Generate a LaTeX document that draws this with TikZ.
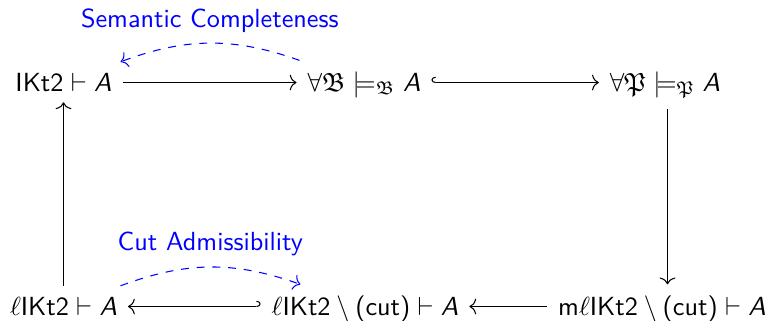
\documentclass[tikz,border=0pt]{standalone}
\usepackage{amssymb}
\usepackage{fontspec}
\usetikzlibrary{arrows.meta,calc}
\newcommand{\sA}{\mbox{\sffamily\slshape A}}
\newcommand{\fB}{\mathfrak{B}}
\newcommand{\fP}{\mathfrak{P}}
\newcommand{\cutt}{\mbox{(cut)}}
\begin{document}
\begin{tikzpicture}[x=0.3817pt,y=-0.3817pt,font=\sffamily,
  obj/.style={inner sep=4pt,anchor=base},
  arr/.style={-{To[length=2.6pt,width=6pt]},line width=0.4pt},
  hookup/.style={{Hooks[right,length=1.6pt,width=4.4pt]}-{To[length=2.6pt,width=6pt]},line width=0.4pt},
  hookdn/.style={{Hooks[left,length=1.6pt,width=4.4pt]}-{To[length=2.6pt,width=6pt]},line width=0.4pt},
  proof/.style={blue,dashed,line width=0.4pt,-{To[length=2.6pt,width=6pt]}},
  lbl/.style={text=blue,font=\sffamily,above,inner sep=4pt}]
\useasboundingbox (0,0) rectangle (775,320);
\node[obj] (n1) at (63.5,91) {$\mathsf{IKt2}\vdash\sA$};
\node[obj] (n2) at (364,91) {$\forall\fB\models_{\fB}\sA$};
\node[obj] (n3) at (665,91) {$\forall\fP\models_{\fP}\sA$};
\node[obj] (n4) at (63.5,315) {$\ell\mathsf{IKt2}\vdash\sA$};
\node[obj] (n5) at (365,315) {$\ell\mathsf{IKt2}\setminus\cutt\vdash\sA$};
\node[obj] (n6) at (662,315) {$\mathsf{m}\ell\mathsf{IKt2}\setminus\cutt\vdash\sA$};
\draw[arr] ([yshift=3.24pt]n1.base east) -- ([yshift=3.24pt]n2.base west);
\draw[hookup] ([yshift=3.24pt]n2.base east) -- ([yshift=3.24pt]n3.base west);
\draw[arr] ([xshift=0.95pt]n3.south) -- ([xshift=0.95pt]n3.south |- n6.north);
\draw[arr] ([yshift=3.24pt]n6.base west) -- ([yshift=3.24pt]n5.base east);
\draw[hookdn] ([yshift=3.24pt]n5.base west) -- ([yshift=3.24pt]n4.base east);
\draw[arr] (n4.north) -- (n4.north |- n1.south);
\draw[proof] (n2) to[bend right=20] node[lbl,midway] {Semantic Completeness} (n1);
\draw[proof] (n4) to[bend left=20] node[lbl,midway] {Cut Admissibility} (n5);
\end{tikzpicture}
\end{document}
